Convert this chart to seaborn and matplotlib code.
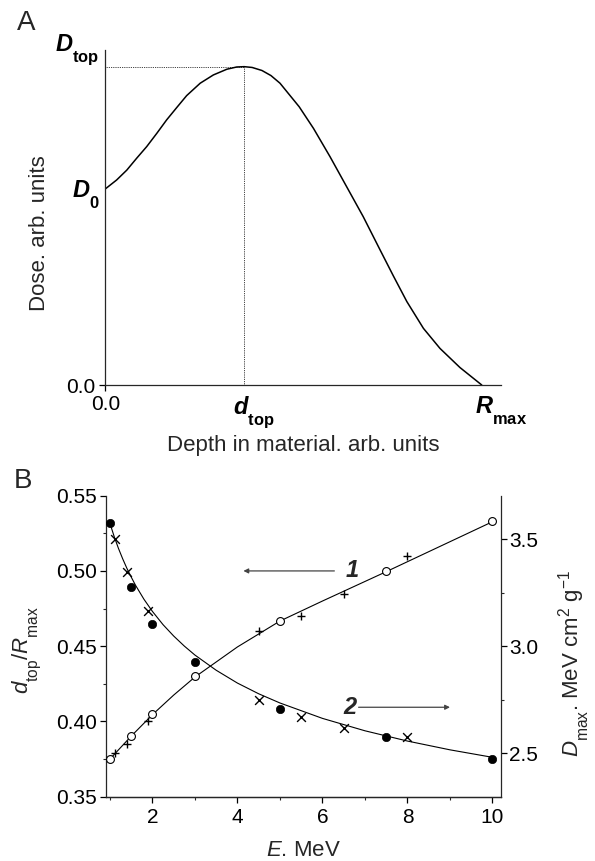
import numpy as np
import pandas as pd
import matplotlib
matplotlib.use("Agg")
import matplotlib.pyplot as plt
import matplotlib.transforms as mtransforms
import matplotlib._mathtext as mathtext_internal
from matplotlib.ticker import MultipleLocator, FormatStrFormatter
import seaborn as sns

# %% data -- panel A (depth-dose curve, relative units, R_max = 1, D_top = 1)
depth = [0.0, 0.030, 0.057, 0.083, 0.110, 0.137, 0.163, 0.190, 0.216, 0.252,
         0.287, 0.323, 0.349, 0.369, 0.390, 0.416, 0.440, 0.464, 0.515, 0.553,
         0.597, 0.641, 0.685, 0.730, 0.765, 0.801, 0.845, 0.889, 0.942, 1.0]
dose = [0.616, 0.644, 0.675, 0.712, 0.749, 0.791, 0.833, 0.872, 0.909, 0.948,
        0.974, 0.992, 0.999, 1.0, 0.9975, 0.988, 0.972, 0.948, 0.874, 0.806,
        0.717, 0.623, 0.529, 0.424, 0.343, 0.262, 0.178, 0.115, 0.055, 0.0]

# %% data -- panel B
# curve 1: d_top / R_max (left axis)
E_open = [1.0, 1.5, 2.0, 3.0, 5.0, 7.5, 10.0]
ratio_open = [0.375, 0.390, 0.405, 0.430, 0.467, 0.500, 0.533]
E_plus = [1.13, 1.4, 1.9, 4.5, 5.5, 6.5, 8.0]
ratio_plus = [0.379, 0.385, 0.400, 0.460, 0.470, 0.485, 0.510]
fit1_E = [1.0, 1.5, 2.0, 2.5, 3.0, 4.0, 5.0, 6.0, 7.5, 10.0]
fit1_y = [0.375, 0.3902, 0.4045, 0.4175, 0.4295, 0.4495, 0.4667, 0.480, 0.4995, 0.5327]

# curve 2: D_max, MeV cm2/g (right axis)
E_fill = [1.0, 1.5, 2.0, 3.0, 5.0, 7.5, 10.0]
dmax_fill = [3.575, 3.276, 3.104, 2.928, 2.707, 2.575, 2.473]
E_cross = [1.13, 1.4, 1.9, 4.5, 5.5, 6.5, 8.0]
dmax_cross = [3.50, 3.349, 3.167, 2.748, 2.670, 2.619, 2.577]
fit2_E = [1.0, 1.1, 1.2, 1.3, 1.4, 1.5, 1.6, 1.8, 2.0, 2.25, 2.5, 2.75, 3.0,
          3.5, 4.0, 4.5, 5.0, 6.0, 7.0, 8.0, 9.0, 10.0]
fit2_y = [3.575, 3.513, 3.458, 3.409, 3.364, 3.324, 3.286, 3.220, 3.163, 3.101,
          3.048, 3.001, 2.959, 2.888, 2.828, 2.778, 2.735, 2.663, 2.605, 2.557,
          2.516, 2.481]

# %% style
sns.set_style("ticks")
plt.rcParams["font.family"] = ["Liberation Sans", "DejaVu Sans"]
plt.rcParams["mathtext.fontset"] = "custom"
plt.rcParams["mathtext.rm"] = "Liberation Sans"
plt.rcParams["mathtext.it"] = "Liberation Sans:italic"
plt.rcParams["mathtext.bf"] = "Liberation Sans:bold"
plt.rcParams["mathtext.bfit"] = "Liberation Sans:italic:bold"
plt.rcParams["axes.linewidth"] = 0.9
# deeper subscripts, like the original figure
mathtext_internal.FontConstantsBase.sub1 = 0.85

fig = plt.figure(figsize=(5.95, 8.61), dpi=100)
axA = fig.add_axes([0.177, 0.5528, 0.665, 0.389])
axB = fig.add_axes([0.1776, 0.0747, 0.6644, 0.3496])


def shift(label, dx_px, dy_px=0):
    label.set_transform(label.get_transform() +
                        mtransforms.ScaledTranslation(dx_px / 100, dy_px / 100,
                                                      fig.dpi_scale_trans))


# %% panel A
dfA = pd.DataFrame({"depth": depth, "dose": dose})
sns.lineplot(data=dfA, x="depth", y="dose", ax=axA, color="black", lw=1.1,
             estimator=None, sort=False)

i_top = int(np.argmax(dose))
d_top, D_top, D0, R_max = depth[i_top], dose[i_top], dose[0], depth[-1]
axA.hlines(D_top, 0, d_top, colors="black", linestyles=(0, (1, 1.2)), lw=0.6)
axA.vlines(d_top, 0, D_top, colors="black", linestyles=(0, (1, 1.2)), lw=0.6)

axA.set_xlim(0, 1.051)
axA.set_ylim(0, 1.052)
sns.despine(ax=axA)
axA.set_xticks([0, d_top, R_max])
axA.set_xticklabels(["0.0", r"$\mathbfit{d}_{\mathbf{top}}$", r"$\mathbfit{R}_{\mathbf{max}}$"])
axA.set_yticks([0, D0, D_top])
axA.set_yticklabels(["0.0", r"$\mathbfit{D}_{\mathbf{0}}$", r"$\mathbfit{D}_{\mathbf{top}}$"])
axA.tick_params(direction="out", length=4, width=0.9, pad=3, labelsize=15, colors="black")

for k in (1, 2):
    axA.xaxis.get_major_ticks()[k].tick1line.set_visible(False)
    axA.yaxis.get_major_ticks()[k].tick1line.set_visible(False)
xl = axA.get_xticklabels()
for k, dx in ((1, -11), (2, -7)):
    xl[k].set_fontsize(17)
    xl[k].set_ha("left")
    shift(xl[k], dx)
yl = axA.get_yticklabels()
for k in (1, 2):
    yl[k].set_fontsize(17)
    shift(yl[k], 4)
yl[2].set_va("bottom")

axA.set_xlabel("Depth in material. arb. units", fontsize=16)
axA.set_ylabel("Dose. arb. units", fontsize=16)
axA.xaxis.set_label_coords(0.5, -0.149)
axA.yaxis.set_label_coords(-0.14, 0.454)

# %% panel B
ax2 = axB.twinx()
sns.lineplot(x=fit1_E, y=fit1_y, ax=axB, color="black", lw=0.8, estimator=None)
sns.scatterplot(x=E_plus, y=ratio_plus, ax=axB, marker="+", s=38, color="black",
                linewidth=1.0, zorder=3)
sns.scatterplot(x=E_open, y=ratio_open, ax=axB, marker="o", s=32, facecolor="white",
                edgecolor="black", linewidth=0.8, zorder=4)

sns.lineplot(x=fit2_E, y=fit2_y, ax=ax2, color="black", lw=0.8, estimator=None)
sns.scatterplot(x=E_cross, y=dmax_cross, ax=ax2, marker="x", s=40, color="black",
                linewidth=1.0, zorder=3)
sns.scatterplot(x=E_fill, y=dmax_fill, ax=ax2, marker="o", s=36, color="black",
                edgecolor="black", linewidth=0.5, zorder=4)

axB.set_xlim(0.9, 10.2)
axB.set_ylim(0.35, 0.55)
ax2.set_ylim(2.297, 3.704)
for a in (axB, ax2):
    a.spines["top"].set_visible(False)
axB.spines["right"].set_visible(False)
ax2.spines["left"].set_visible(False)

axB.xaxis.set_major_locator(MultipleLocator(2))
axB.xaxis.set_minor_locator(MultipleLocator(1))
axB.yaxis.set_major_locator(MultipleLocator(0.05))
axB.yaxis.set_minor_locator(MultipleLocator(0.025))
axB.yaxis.set_major_formatter(FormatStrFormatter("%.2f"))
ax2.yaxis.set_major_locator(MultipleLocator(0.5))
ax2.yaxis.set_minor_locator(MultipleLocator(0.25))
ax2.yaxis.set_major_formatter(FormatStrFormatter("%.1f"))
for a in (axB, ax2):
    a.tick_params(which="major", direction="out", length=4, width=0.9, pad=2,
                  labelsize=15, colors="black")
    a.tick_params(which="minor", direction="out", length=2.5, width=0.8)
axB.tick_params(axis="x", pad=4)

axB.set_xlabel("$E$. MeV", fontsize=16)
axB.set_ylabel(r"$d_{\mathrm{top}}/R_{\mathrm{max}}$", fontsize=16)
ax2.set_ylabel(r"$D_{\mathrm{max}}$. MeV cm$^2$ g$^{-1}$", fontsize=16)
axB.xaxis.set_label_coords(0.5, -0.144)
axB.yaxis.set_label_coords(-0.159, 0.488)
ax2.yaxis.set_label_coords(1.142, 0.444)

arrow = dict(arrowstyle="-|>", color="#444444", lw=0.9, mutation_scale=7,
             shrinkA=0, shrinkB=0)
axB.annotate("", xy=(4.14, 0.5), xytext=(6.28, 0.5), arrowprops=arrow)
axB.text(6.7, 0.5, "1", fontsize=17, fontweight="bold", fontstyle="italic",
         ha="center", va="center")
ax2.annotate("", xy=(9.0, 2.715), xytext=(6.85, 2.715), arrowprops=arrow)
ax2.text(6.64, 2.715, "2", fontsize=17, fontweight="bold", fontstyle="italic",
         ha="center", va="center")

fig.text(26.5 / 595, 1 - 23 / 861, "A", fontsize=20, ha="center", va="center")
fig.text(23.5 / 595, 1 - 481 / 861, "B", fontsize=20, ha="center", va="center")

fig.savefig("out.png", dpi=100)
